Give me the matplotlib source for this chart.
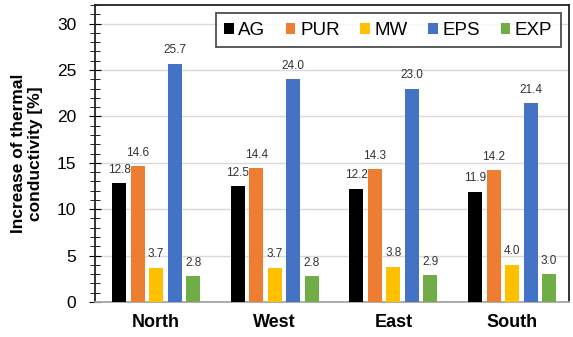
import matplotlib.pyplot as plt
import numpy as np
from matplotlib.ticker import MultipleLocator

plt.rcParams['font.family'] = ['Liberation Sans', 'DejaVu Sans']

regions = ["North", "West", "East", "South"]
materials = ["AG", "PUR", "MW", "EPS", "EXP"]
ag = [12.8, 12.5, 12.2, 11.9]
pur = [14.6, 14.4, 14.3, 14.2]
mw = [3.7, 3.7, 3.8, 4.0]
eps = [25.7, 24.0, 23.0, 21.4]
exp_ = [2.8, 2.8, 2.9, 3.0]
colors = ["#000000", "#ED7D31", "#FFC000", "#4472C4", "#70AD47"]

fig = plt.figure(figsize=(5.73, 3.37), dpi=100)
ax = fig.add_axes([0.166, 0.104, 0.827, 0.881])

x = np.arange(len(regions))
slot = 0.156
width = 0.118
for i, (name, vals) in enumerate(zip(materials, [ag, pur, mw, eps, exp_])):
    pos = x + (i - 2) * slot
    ax.bar(pos, vals, width, color=colors[i], label=name, zorder=3)
    for p, v in zip(pos, vals):
        ax.text(p, v + 0.8, f"{v:.1f}", ha="center", va="bottom",
                fontsize=8.5, color="#333333", zorder=4)

ax.set_ylim(0, 32)
ax.set_xlim(-0.514, 3.48)
ax.yaxis.set_major_locator(MultipleLocator(5))
ax.yaxis.set_minor_locator(MultipleLocator(1))
ax.tick_params(axis="y", which="major", direction="inout", length=9, labelsize=12.5, pad=9)
ax.tick_params(axis="y", which="minor", direction="inout", length=7)
ax.tick_params(axis="x", length=0, labelsize=13, pad=9)
ax.set_xticks(x)
ax.set_xticklabels(regions, fontweight="bold")
ax.grid(axis="y", color="#d9d9d9", linewidth=1, zorder=0)
ax.set_ylabel("Increase of thermal\nconductivity [%]", fontsize=12.5,
              fontweight="bold", labelpad=10)

leg = ax.legend(loc="upper right", ncol=5, fontsize=13.5, frameon=True, fancybox=False,
                handlelength=0.5, handleheight=0.5, handletextpad=0.25,
                columnspacing=1.1, borderaxespad=0.45, borderpad=0.45)
leg.get_frame().set_edgecolor("#222222")
leg.get_frame().set_linewidth(1.3)

for s in ax.spines.values():
    s.set_linewidth(1.3)
    s.set_color("#222222")
ax.spines["bottom"].set_color("#a6a6a6")

fig.savefig("out.png", dpi=100)
